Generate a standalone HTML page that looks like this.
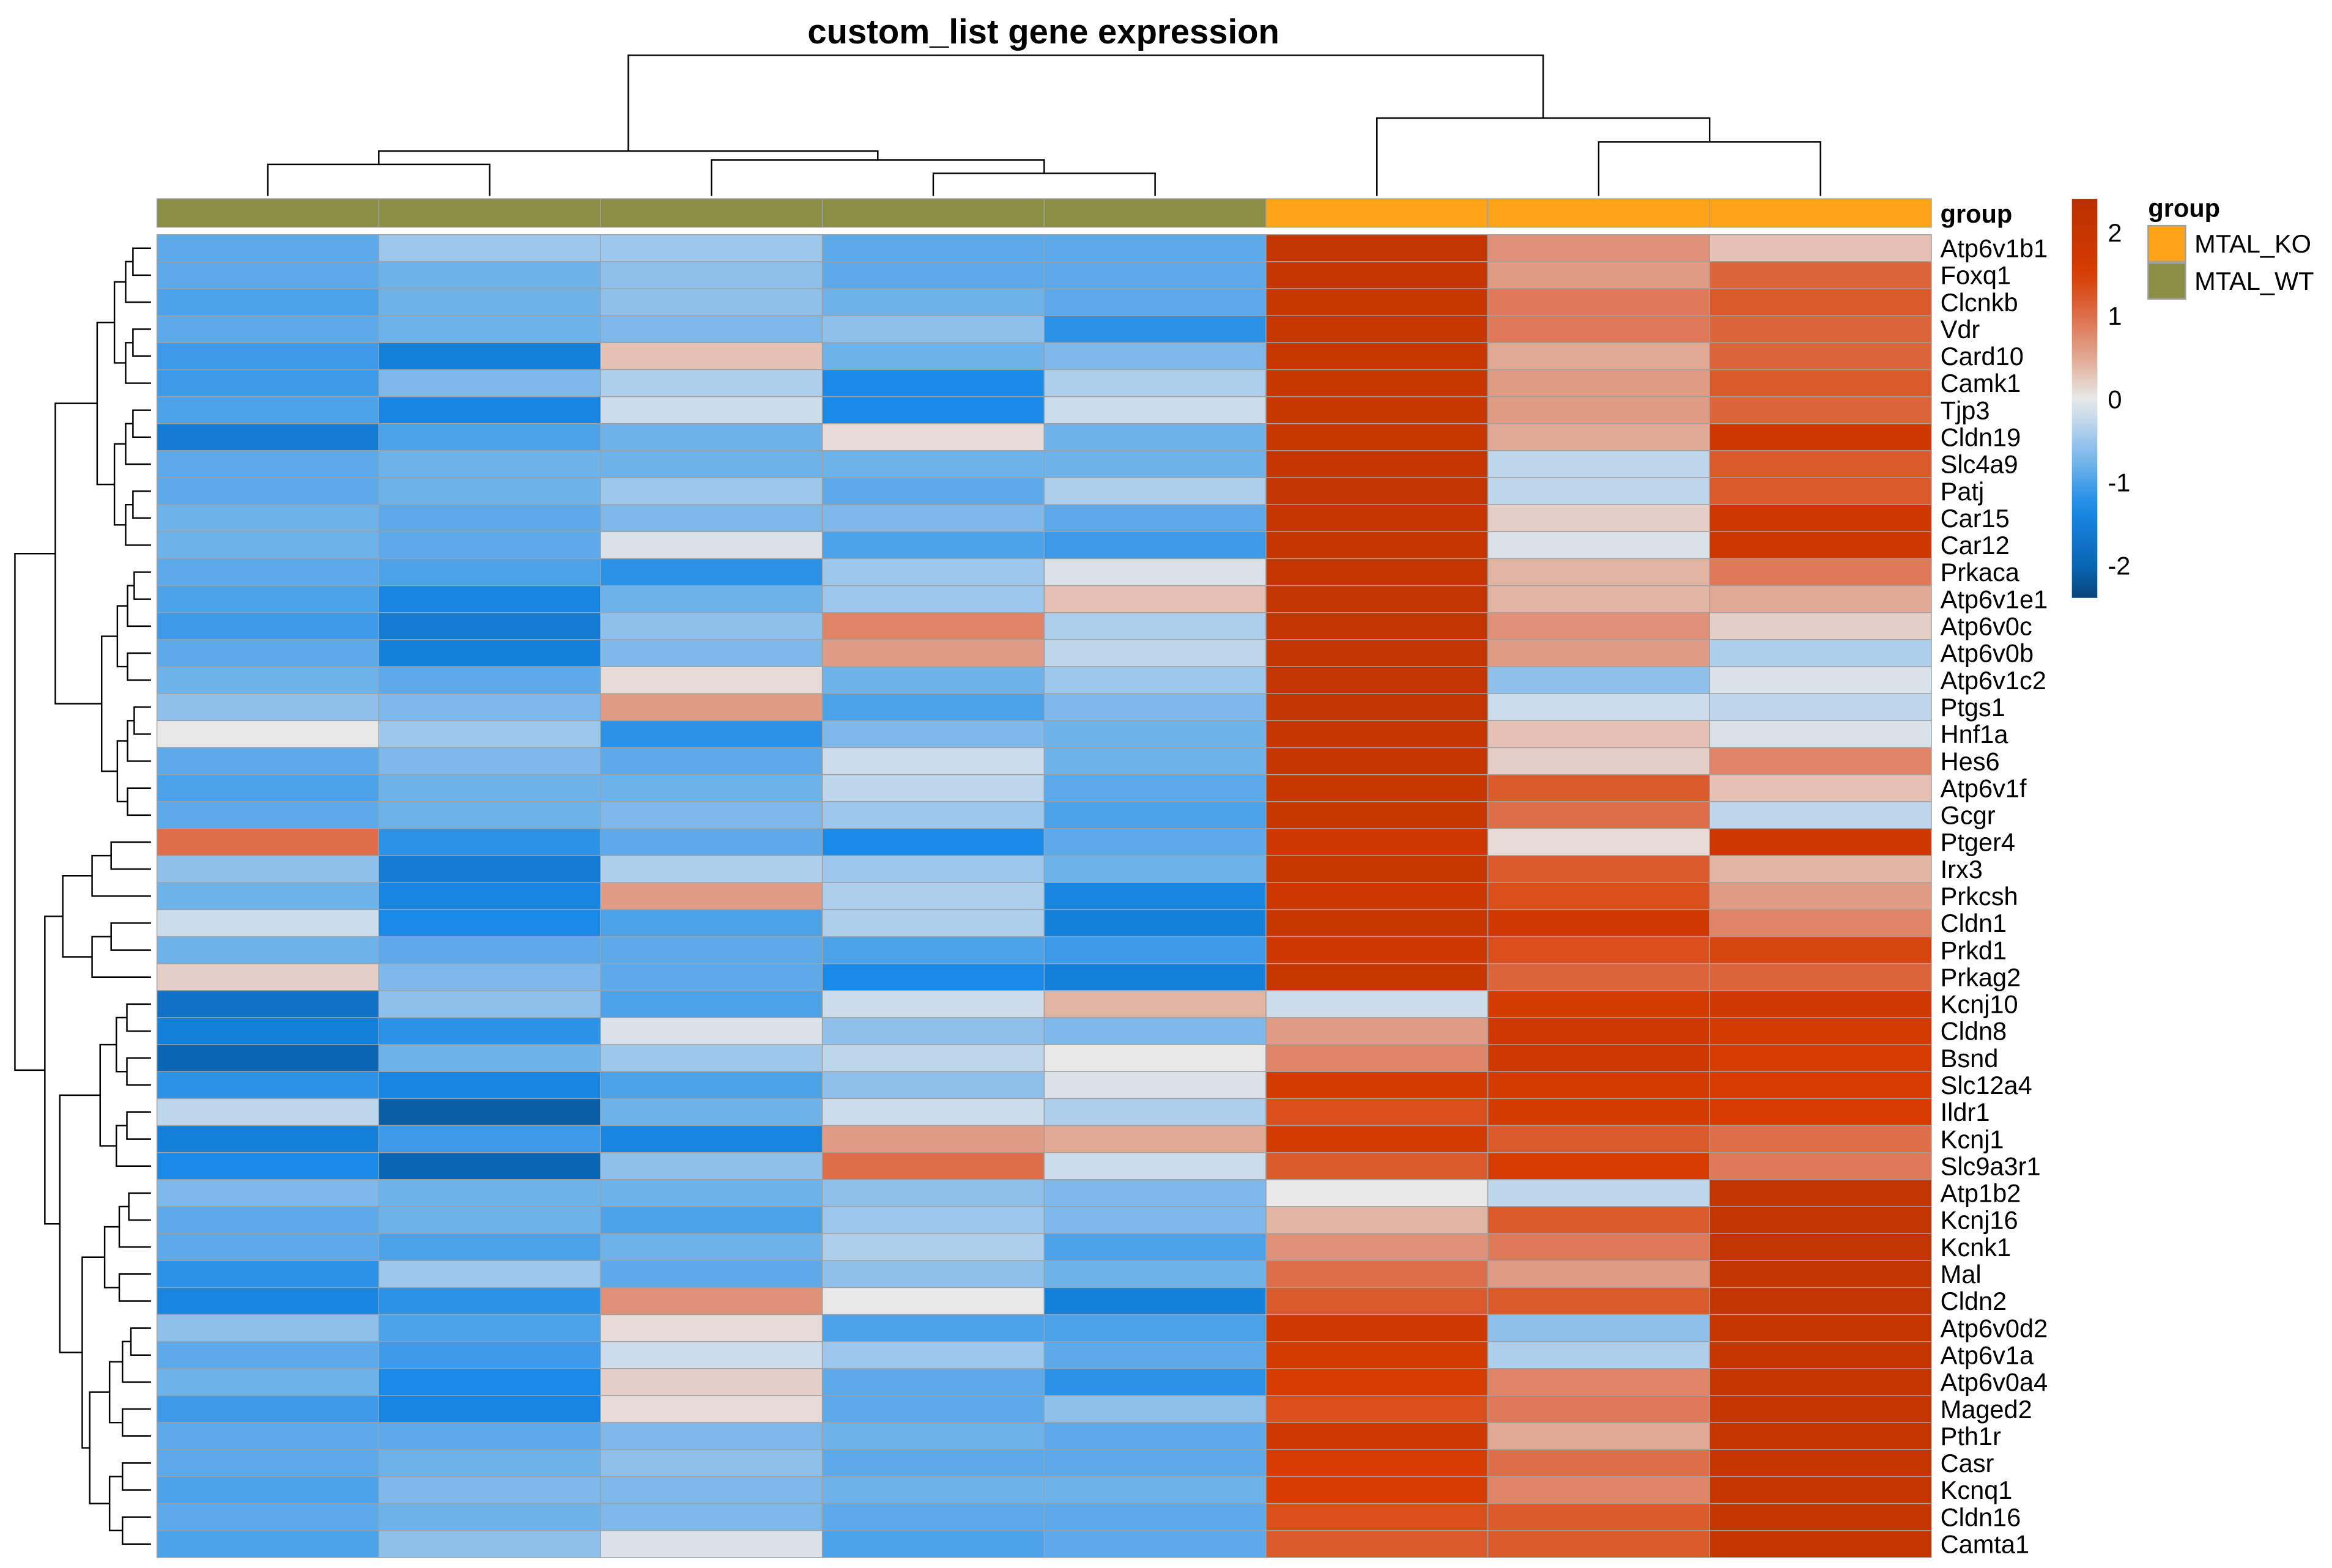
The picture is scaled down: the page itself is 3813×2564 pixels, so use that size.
<!DOCTYPE html>
<html><head><meta charset="utf-8"><style>html,body{margin:0;padding:0;background:#fff}svg{display:block}text{font-family:"Liberation Sans",sans-serif}</style></head>
<body>
<svg id="c" xmlns="http://www.w3.org/2000/svg" width="3813" height="2564" viewBox="0 0 1560 1049">
<rect width="1560" height="1049" fill="#fff"/>
<text x="698" y="29" text-anchor="middle" font-size="23" font-weight="bold">custom_list gene expression</text>
</svg>
<script>
const genes=["Atp6v1b1","Foxq1","Clcnkb","Vdr","Card10","Camk1","Tjp3","Cldn19","Slc4a9","Patj","Car15","Car12","Prkaca","Atp6v1e1","Atp6v0c","Atp6v0b","Atp6v1c2","Ptgs1","Hnf1a","Hes6","Atp6v1f","Gcgr","Ptger4","Irx3","Prkcsh","Cldn1","Prkd1","Prkag2","Kcnj10","Cldn8","Bsnd","Slc12a4","Ildr1","Kcnj1","Slc9a3r1","Atp1b2","Kcnj16","Kcnk1","Mal","Cldn2","Atp6v0d2","Atp6v1a","Atp6v0a4","Maged2","Pth1r","Casr","Kcnq1","Cldn16","Camta1"];
const groups=["MTAL_WT","MTAL_WT","MTAL_WT","MTAL_WT","MTAL_WT","MTAL_KO","MTAL_KO","MTAL_KO"];
const values=[
[-0.9,-0.5,-0.5,-0.9,-0.9,2.1,0.7,0.3],
[-0.9,-0.8,-0.6,-0.9,-0.9,2.0,0.6,1.1],
[-1.0,-0.8,-0.6,-0.8,-0.9,1.9,0.9,1.2],
[-0.9,-0.8,-0.7,-0.6,-1.2,1.9,0.9,1.1],
[-1.1,-1.5,0.3,-0.8,-0.7,1.9,0.5,1.1],
[-1.1,-0.7,-0.4,-1.3,-0.4,1.9,0.6,1.2],
[-1.0,-1.4,-0.2,-1.3,-0.2,1.9,0.6,1.1],
[-1.6,-1.0,-0.8,0.1,-0.8,1.9,0.5,1.8],
[-0.9,-0.8,-0.8,-0.8,-0.8,2.0,-0.3,1.2],
[-0.9,-0.8,-0.5,-0.9,-0.4,2.1,-0.3,1.2],
[-0.8,-0.9,-0.7,-0.7,-0.9,2.0,0.2,1.8],
[-0.8,-0.9,-0.1,-1.0,-1.1,2.0,-0.1,1.8],
[-0.9,-1.0,-1.2,-0.5,-0.1,2.0,0.4,0.9],
[-1.0,-1.4,-0.8,-0.5,0.3,2.1,0.4,0.5],
[-1.1,-1.6,-0.6,0.8,-0.4,2.1,0.7,0.2],
[-0.9,-1.5,-0.7,0.6,-0.3,2.1,0.6,-0.4],
[-0.8,-0.9,0.1,-0.8,-0.5,2.1,-0.6,-0.1],
[-0.6,-0.7,0.6,-1.0,-0.7,2.1,-0.2,-0.3],
[0.0,-0.5,-1.2,-0.7,-0.8,2.0,0.3,-0.1],
[-0.9,-0.7,-0.9,-0.2,-0.8,2.0,0.2,0.8],
[-1.0,-0.8,-0.8,-0.3,-0.9,1.9,1.2,0.3],
[-0.9,-0.8,-0.7,-0.5,-1.0,1.9,1.0,-0.3],
[1.0,-1.2,-0.9,-1.3,-0.9,1.8,0.1,1.8],
[-0.6,-1.6,-0.4,-0.5,-0.8,1.9,1.2,0.4],
[-0.8,-1.4,0.6,-0.4,-1.4,1.8,1.3,0.6],
[-0.2,-1.3,-1.0,-0.4,-1.5,1.9,1.7,0.8],
[-0.8,-0.9,-0.9,-1.0,-1.1,1.8,1.3,1.4],
[0.2,-0.7,-0.9,-1.3,-1.5,1.9,1.1,1.1],
[-1.8,-0.6,-1.0,-0.2,0.4,-0.2,1.6,1.7],
[-1.5,-1.2,-0.1,-0.6,-0.7,0.6,1.7,1.6],
[-2.0,-0.8,-0.5,-0.3,0.0,0.8,1.7,1.5],
[-1.2,-1.4,-1.0,-0.6,-0.1,1.6,1.6,1.5],
[-0.3,-2.1,-0.8,-0.2,-0.4,1.3,1.6,1.5],
[-1.5,-1.1,-1.4,0.6,0.5,1.6,1.2,1.0],
[-1.3,-2.0,-0.6,1.0,-0.2,1.2,1.5,0.9],
[-0.7,-0.8,-0.8,-0.6,-0.7,0.0,-0.3,2.1],
[-0.9,-0.8,-1.0,-0.5,-0.7,0.4,1.2,2.1],
[-0.9,-1.0,-0.8,-0.4,-1.0,0.7,0.9,2.1],
[-1.2,-0.5,-0.9,-0.6,-0.8,1.0,0.6,2.1],
[-1.4,-1.2,0.7,0.0,-1.5,1.2,1.2,2.1],
[-0.6,-1.0,0.1,-1.0,-1.0,1.7,-0.6,2.0],
[-0.9,-1.1,-0.2,-0.5,-0.9,1.6,-0.4,2.0],
[-0.8,-1.3,0.2,-0.9,-1.2,1.5,0.8,2.0],
[-1.1,-1.4,0.1,-0.9,-0.6,1.3,0.9,2.0],
[-0.9,-0.9,-0.7,-0.8,-0.9,1.7,0.5,2.0],
[-0.9,-0.8,-0.6,-0.9,-0.9,1.5,1.0,2.0],
[-1.0,-0.7,-0.7,-0.8,-0.8,1.5,0.8,2.0],
[-0.9,-0.8,-0.7,-0.9,-0.9,1.3,1.2,2.0],
[-1.0,-0.6,-0.1,-1.0,-0.9,1.2,1.2,2.0]];
const legendTicks=[2,1,0,-1,-2];
const colMerges=[[0,1,110],[3,4,116],[2,"B",107],["A","C",101],[6,7,95],[5,"E",79],["D","F",37]];

const svg=document.getElementById('c');const NS="http://www.w3.org/2000/svg";
function mk(t,a,p){const e=document.createElementNS(NS,t);for(const k in a)e.setAttribute(k,a[k]);(p||svg).appendChild(e);return e;}
const stops=[[-2.4,[8,69,122]],[-2,[10,102,181]],[-1.3,[26,138,232]],[-0.8,[110,178,234]],[-0.3,[190,214,236]],[0,[232,232,232]],[0.4,[226,180,162]],[0.9,[222,120,88]],[1.5,[214,60,0]],[2.4,[184,48,0]]];
function col(v){if(v<=stops[0][0])return `rgb(${stops[0][1]})`;for(let i=1;i<stops.length;i++){if(v<=stops[i][0]){const a=stops[i-1],b=stops[i],t=(v-a[0])/(b[0]-a[0]);return 'rgb('+a[1].map((c,j)=>Math.round(c+(b[1][j]-c)*t)).join(',')+')';}}return `rgb(${stops[stops.length-1][1]})`;}
const x0=105,x1=1292,y0=157,y1=1042,nc=8,nr=genes.length,cw=(x1-x0)/nc,rh=(y1-y0)/nr;
const xs=j=>x0+j*cw, ys=i=>y0+i*rh;
const gcol={"MTAL_KO":"#ffa319","MTAL_WT":"#8b8f46"};
groups.forEach((g,j)=>{const r=mk('rect',{x:xs(j),y:133,width:cw,height:19,fill:gcol[g],stroke:'#a0a0a0','stroke-width':0.6});

});
const gl=mk('text',{x:1298,y:149,'font-size':17,'font-weight':'bold'});gl.textContent='group';


values.forEach((row,i)=>{row.forEach((v,j)=>{const r=mk('rect',{x:xs(j),y:ys(i),width:cw,height:rh,fill:col(v),stroke:'#a0a0a0','stroke-width':0.6});

});
const t=mk('text',{x:1298,y:ys(i)+rh/2+6,'font-size':17});t.textContent=genes[i];

});
const nodes={};const names=["A","B","C","D","E","F","G"];
function pos(k){return typeof k==="number"?{x:xs(k)+cw/2,y:131}:nodes[k];}
colMerges.forEach((m,i)=>{const a=pos(m[0]),b=pos(m[1]),h=m[2];
const p=mk('path',{d:`M${a.x},${a.y}V${h}H${b.x}V${b.y}`,fill:'none',stroke:'#000','stroke-width':1});


nodes[names[i]]={x:(a.x+b.x)/2,y:h};});
function leaf(i){return {x:101,y:ys(i)+rh/2};}
function join(a,b,x){const p=mk('path',{d:`M${a.x},${a.y}H${x}V${b.y}H${b.x}`,fill:'none',stroke:'#000','stroke-width':1});


return {x:x,y:(a.y+b.y)/2};}
function auto(lo,hi,x){if(lo===hi)return leaf(lo);const mid=Math.floor((lo+hi)/2);const nx=x+(98-x)*0.35;return join(auto(lo,mid,nx),auto(mid+1,hi,nx),x);}
const A=join(auto(0,11,65),auto(12,21,68),37);
const B1=auto(22,27,42);
const B2=join(auto(28,34,67),join(auto(35,39,70),auto(40,48,60),55),40);
const B=join(B1,B2,30);
join(A,B,10);
const defs=mk('defs',{});const lg=mk('linearGradient',{id:'lg',x1:0,y1:1,x2:0,y2:0},defs);
for(let v=-2.4;v<=2.41;v+=0.2){mk('stop',{offset:((v+2.4)/4.8).toFixed(3),'stop-color':col(v)},lg);}
const cb=mk('rect',{x:1386,y:133,width:17,height:267,fill:'url(#lg)'});


legendTicks.forEach(v=>{const t=mk('text',{x:1410,y:267-55.7*v+6,'font-size':17});t.textContent=v;

});
const lt=mk('text',{x:1437,y:145,'font-size':17,'font-weight':'bold'});lt.textContent='group';


[["MTAL_KO",151],["MTAL_WT",176]].forEach(([g,y])=>{const r=mk('rect',{x:1437,y:y,width:25,height:24,fill:gcol[g],stroke:'#a0a0a0','stroke-width':1});


const t=mk('text',{x:1468,y:y+18,'font-size':17});t.textContent=g;

});
</script>
</body></html>
